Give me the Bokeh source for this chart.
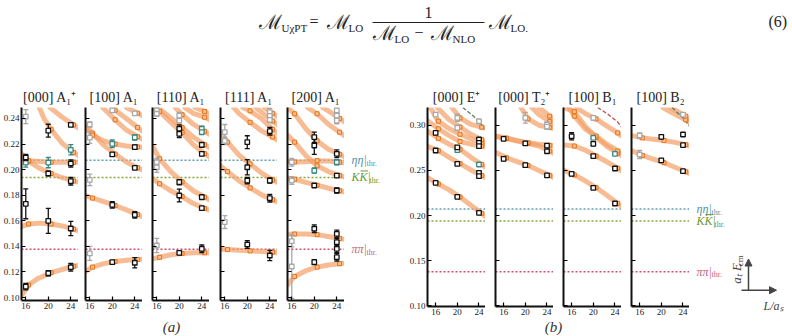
from bokeh.plotting import figure
from bokeh.layouts import row, column
from bokeh.models import Range1d, FixedTicker, PrintfTickFormatter, Span, Arrow, NormalHead
from bokeh.core.properties import value
from bokeh.embed import file_html
from bokeh.resources import INLINE
import math

SERIF = "Liberation Serif"
MATH = "DejaVu Serif"

# ---------------- data ----------------
L_TICKS = [16, 20, 24]
A_YTICKS = [0.10, 0.12, 0.14, 0.16, 0.18, 0.20, 0.22, 0.24]
B_YTICKS = [0.10, 0.15, 0.20, 0.25, 0.30]
A_YRANGE = (0.0977, 0.2486)
B_YRANGE = (0.0994, 0.3196)
A_XRANGE = (15.24, 25.37)
B_XRANGE = (14.5, 25.2)
FIT_L = [16.5, 20.5, 24.5]
THR_ETA, THR_KK, THR_PIPI = 0.2073, 0.1939, 0.1378

# (L, a_t E_cm, error)
A1_BLACK = [(16, 0.1085, 0.0025), (16, 0.1733, 0.0117), (16, 0.2095, 0.0025),
            (20, 0.1190, 0.0020), (20, 0.1600, 0.0098), (20, 0.1970, 0.0018), (20, 0.2305, 0.0050),
            (24, 0.1237, 0.0030), (24, 0.1540, 0.0056), (24, 0.1910, 0.0030), (24, 0.2048, 0.0028), (24, 0.2350, 0.0012)]
A1_GRAY = [(16, 0.2415, 0.0055)]
A1_TEAL = [(16, 0.2055, 0.0035), (20, 0.2055, 0.0040), (24, 0.2155, 0.0040)]
A1_CURVES = [
    [(15.24, 0.1015), (16.0, 0.1065), (16.5, 0.1098), (18.0, 0.1145), (20.5, 0.1195), (24.5, 0.1245), (25.37, 0.1252)],
    [(15.24, 0.1555), (16.5, 0.1575), (18.5, 0.1582), (20.5, 0.1575), (22.5, 0.1560), (24.5, 0.1535), (25.37, 0.1522)],
    [(15.24, 0.2125), (16.5, 0.2065), (18.5, 0.2010), (20.5, 0.1970), (22.5, 0.1937), (24.5, 0.1912), (25.37, 0.1903)],
    [(15.24, 0.2085), (16.5, 0.2070), (20.5, 0.2058), (24.5, 0.2057), (25.37, 0.2057)],
    [(18.4, 0.2486), (19.3, 0.2395), (20.5, 0.2315), (22.5, 0.2205), (24.5, 0.2135), (25.37, 0.2110)],
    [(20.3, 0.2486), (22.5, 0.2410), (24.5, 0.2350), (25.37, 0.2325)],
]

A2_BLACK = [(20, 0.2119, 0.0012), (20, 0.1725, 0.0025), (20, 0.1277, 0.0012),
            (24, 0.2176, 0.0015), (24, 0.2014, 0.0010), (24, 0.1647, 0.0025), (24, 0.1272, 0.0040)]
A2_GRAY = [(16, 0.2353, 0.0020), (16, 0.2250, 0.0045), (16, 0.1920, 0.0045), (16, 0.1345, 0.0055),
           (20, 0.2463, 0.0012), (24, 0.2440, 0.0012)]
A2_TEAL = [(20, 0.2202, 0.0030), (24, 0.2252, 0.0020)]
A2_CURVES = [
    [(15.24, 0.1205), (16.5, 0.1238), (18.5, 0.1265), (20.5, 0.1282), (22.5, 0.1292), (24.5, 0.1298), (25.37, 0.1300)],
    [(15.24, 0.1797), (16.5, 0.1778), (18.5, 0.1750), (20.5, 0.1720), (22.5, 0.1685), (24.5, 0.1650), (25.37, 0.1633)],
    [(15.24, 0.2345), (16.5, 0.2285), (18.5, 0.2190), (20.5, 0.2122), (22.5, 0.2060), (24.5, 0.2015), (25.37, 0.1997)],
    [(15.24, 0.2325), (16.5, 0.2270), (18.5, 0.2225), (20.5, 0.2200), (22.5, 0.2185), (24.5, 0.2178), (25.37, 0.2175)],
    [(18.3, 0.2486), (20.5, 0.2390), (22.5, 0.2310), (24.5, 0.2258), (25.37, 0.2238)],
    [(20.0, 0.2486), (20.5, 0.2465), (22.5, 0.2400), (24.5, 0.2330), (25.37, 0.2300)],
    [(22.5, 0.2486), (24.5, 0.2442), (25.37, 0.2420)],
]

A3_BLACK = [(20, 0.2320, 0.0030), (20, 0.2280, 0.0030), (20, 0.1902, 0.0020), (20, 0.1798, 0.0050), (20, 0.1350, 0.0015),
            (24, 0.2194, 0.0020), (24, 0.2124, 0.0015), (24, 0.1785, 0.0020), (24, 0.1699, 0.0012), (24, 0.1381, 0.0030)]
A3_GRAY = [(16, 0.2463, 0.0020), (16, 0.2437, 0.0020), (16, 0.2058, 0.0030), (16, 0.2019, 0.0040), (16, 0.1407, 0.0055),
           (20, 0.2423, 0.0025), (20, 0.2384, 0.0020)]
A3_TEAL = [(24, 0.2320, 0.0020), (24, 0.2294, 0.0020)]
A3_CURVES = [
    [(15.24, 0.1302), (16.5, 0.1315), (18.5, 0.1335), (20.5, 0.1345), (22.5, 0.1350), (24.5, 0.1350), (25.37, 0.1350)],
    [(15.24, 0.1930), (16.5, 0.1890), (18.5, 0.1835), (20.5, 0.1790), (22.5, 0.1735), (24.5, 0.1697), (25.37, 0.1683)],
    [(15.24, 0.2185), (16.5, 0.2085), (18.5, 0.1985), (20.5, 0.1905), (22.5, 0.1835), (24.5, 0.1785), (25.37, 0.1765)],
    [(15.24, 0.2486), (16.5, 0.2455), (18.5, 0.2370), (20.5, 0.2290), (22.5, 0.2195), (24.5, 0.2125), (25.37, 0.2100)],
    [(16.2, 0.2486), (18.5, 0.2405), (20.5, 0.2330), (22.5, 0.2255), (24.5, 0.2195), (25.37, 0.2170)],
    [(19.3, 0.2486), (20.5, 0.2430), (22.5, 0.2355), (24.5, 0.2300), (25.37, 0.2275)],
    [(21.0, 0.2486), (22.5, 0.2440), (24.5, 0.2410), (25.37, 0.2390)],
    [(22.8, 0.2486), (24.5, 0.2455), (25.37, 0.2435)],
]

A4_BLACK = [(20, 0.2215, 0.0050), (20, 0.2019, 0.0060), (20, 0.1915, 0.0025), (20, 0.1415, 0.0030),
            (24, 0.2301, 0.0030), (24, 0.1915, 0.0020), (24, 0.1777, 0.0030), (24, 0.1329, 0.0040)]
A4_GRAY = [(16, 0.2293, 0.0060), (16, 0.2225, 0.0030), (16, 0.1590, 0.0050),
           (24, 0.2450, 0.0030), (24, 0.2420, 0.0025), (24, 0.2390, 0.0020)]
A4_TEAL = []
A4_CURVES = [
    [(15.24, 0.1378), (16.5, 0.1375), (18.5, 0.1370), (20.5, 0.1365), (22.5, 0.1360), (24.5, 0.1355), (25.37, 0.1350)],
    [(15.24, 0.2030), (16.5, 0.1985), (18.5, 0.1915), (20.5, 0.1858), (22.5, 0.1805), (24.5, 0.1765), (25.37, 0.1748)],
    [(15.24, 0.2295), (16.5, 0.2215), (18.5, 0.2115), (20.5, 0.2045), (22.5, 0.1975), (24.5, 0.1920), (25.37, 0.1900)],
    [(17.6, 0.2486), (18.5, 0.2440), (20.5, 0.2370), (22.5, 0.2305), (24.5, 0.2255), (25.37, 0.2232)],
    [(19.2, 0.2486), (20.5, 0.2460), (22.5, 0.2400), (24.5, 0.2315), (25.37, 0.2285)],
    [(21.5, 0.2486), (22.5, 0.2450), (24.5, 0.2380), (25.37, 0.2350)],
    [(23.0, 0.2486), (24.5, 0.2440), (25.37, 0.2415)],
]

A5_BLACK = [(20, 0.2254, 0.0040), (20, 0.2189, 0.0070), (20, 0.1876, 0.0015), (20, 0.1538, 0.0030), (20, 0.1277, 0.0020),
            (24, 0.2124, 0.0030), (24, 0.1954, 0.0012), (24, 0.1837, 0.0020), (24, 0.1498, 0.0030),
            (24, 0.1433, 0.0030), (24, 0.1381, 0.0030), (24, 0.1316, 0.0030)]
A5_GRAY = [(16, 0.2058, 0.0030), (16, 0.1915, 0.0030), (16, 0.1441, 0.0045), (16, 0.1243, 0.0250),
           (24, 0.2463, 0.0020), (24, 0.2423, 0.0025), (24, 0.2384, 0.0025)]
A5_TEAL = [(20, 0.1993, 0.0020), (24, 0.2058, 0.0020)]
A5_CURVES = [
    [(15.24, 0.1100), (16.5, 0.1165), (18.5, 0.1210), (20.5, 0.1238), (22.5, 0.1255), (24.5, 0.1265), (25.37, 0.1268)],
    [(15.24, 0.1495), (16.5, 0.1497), (18.5, 0.1497), (20.5, 0.1492), (22.5, 0.1478), (24.5, 0.1462), (25.37, 0.1455)],
    [(15.24, 0.1935), (16.5, 0.1925), (18.5, 0.1900), (20.5, 0.1878), (22.5, 0.1855), (24.5, 0.1835), (25.37, 0.1825)],
    [(15.24, 0.2065), (16.5, 0.2060), (18.5, 0.2062), (20.5, 0.2070), (22.5, 0.2068), (24.5, 0.2058), (25.37, 0.2052)],
    [(15.24, 0.2270), (16.5, 0.2215), (18.5, 0.2110), (20.5, 0.2030), (22.5, 0.1985), (24.5, 0.1955), (25.37, 0.1942)],
    [(15.24, 0.2486), (16.5, 0.2437), (18.5, 0.2320), (20.5, 0.2225), (22.5, 0.2160), (24.5, 0.2120), (25.37, 0.2100)],
    [(18.8, 0.2486), (20.5, 0.2437), (22.5, 0.2355), (24.5, 0.2293), (25.37, 0.2265)],
    [(21.5, 0.2486), (22.5, 0.2460), (24.5, 0.2400), (25.37, 0.2372)],
]

B1_BLACK = [(16, 0.2916, 0.0020), (16, 0.2720, 0.0012), (16, 0.2363, 0.0012),
            (20, 0.2755, 0.0020), (20, 0.2573, 0.0012), (20, 0.2208, 0.0012),
            (24, 0.2842, 0.0020), (24, 0.2805, 0.0020), (24, 0.2768, 0.0020), (24, 0.2473, 0.0020),
            (24, 0.2436, 0.0020), (24, 0.2031, 0.0010)]
B1_GRAY = [(16, 0.3118, 0.0012), (20, 0.3082, 0.0040), (20, 0.2970, 0.0030), (24, 0.3044, 0.0015)]
B1_TEAL = [(20, 0.2725, 0.0025), (24, 0.2565, 0.0015)]
B1_CURVES = [
    [(14.5, 0.2420), (16.5, 0.2350), (18.5, 0.2285), (20.5, 0.2205), (22.5, 0.2115), (24.5, 0.2025), (25.2, 0.1990)],
    [(14.5, 0.2765), (16.5, 0.2718), (18.5, 0.2645), (20.5, 0.2575), (22.5, 0.2505), (24.5, 0.2445), (25.2, 0.2420)],
    [(14.5, 0.2935), (16.5, 0.2855), (18.5, 0.2790), (20.5, 0.2735), (22.5, 0.2645), (24.5, 0.2565), (25.2, 0.2535)],
    [(14.5, 0.3050), (16.5, 0.2960), (18.5, 0.2885), (20.5, 0.2820), (22.5, 0.2790), (24.5, 0.2770), (25.2, 0.2760)],
    [(15.0, 0.3196), (16.5, 0.3045), (18.5, 0.2960), (20.5, 0.2900), (22.5, 0.2850), (24.5, 0.2810), (25.2, 0.2790)],
    [(16.3, 0.3196), (18.5, 0.3060), (20.5, 0.2980), (22.5, 0.2900), (24.5, 0.2840), (25.2, 0.2815)],
    [(19.0, 0.3196), (20.5, 0.3080), (22.5, 0.3010), (24.5, 0.2978), (25.2, 0.2965)],
]
B1_DASHED = [(21.0, 0.3196), (23.0, 0.3100), (25.2, 0.2960)]

B2_BLACK = [(16, 0.2849, 0.0012), (16, 0.2628, 0.0020), (20, 0.2798, 0.0020), (20, 0.2558, 0.0020),
            (24, 0.2775, 0.0012), (24, 0.2712, 0.0012), (24, 0.2444, 0.0010)]
B2_GRAY = [(20, 0.3082, 0.0060), (24, 0.3007, 0.0030), (24, 0.2985, 0.0030)]
B2_TEAL = []
B2_CURVES = [
    [(14.5, 0.2700), (16.5, 0.2640), (18.5, 0.2598), (20.5, 0.2555), (22.5, 0.2500), (24.5, 0.2445), (25.2, 0.2420)],
    [(14.5, 0.2875), (16.5, 0.2852), (18.5, 0.2825), (20.5, 0.2800), (22.5, 0.2770), (24.5, 0.2715), (25.2, 0.2690)],
    [(14.5, 0.2880), (16.5, 0.2858), (18.5, 0.2830), (20.5, 0.2805), (22.5, 0.2790), (24.5, 0.2778), (25.2, 0.2770)],
    [(19.2, 0.3196), (20.5, 0.3070), (22.5, 0.3000), (24.5, 0.2975), (25.2, 0.2965)],
    [(21.2, 0.3196), (22.5, 0.3120), (24.5, 0.3040), (25.2, 0.3010)],
    [(22.5, 0.3196), (24.5, 0.3100), (25.2, 0.3060)],
]
B2_DASHED = []

B3_BLACK = [(16, 0.2878, 0.0040), (16, 0.2462, 0.0020), (20, 0.2794, 0.0020), (20, 0.2657, 0.0012),
            (20, 0.2307, 0.0012), (24, 0.2521, 0.0010), (24, 0.2134, 0.0010)]
B3_GRAY = [(20, 0.3082, 0.0025)]
B3_TEAL = [(20, 0.2860, 0.0012), (24, 0.2683, 0.0012)]
B3_CURVES = [
    [(14.5, 0.2505), (16.5, 0.2450), (18.5, 0.2385), (20.5, 0.2310), (22.5, 0.2225), (24.5, 0.2135), (25.2, 0.2100)],
    [(14.5, 0.2780), (16.5, 0.2770), (18.5, 0.2725), (20.5, 0.2660), (22.5, 0.2595), (24.5, 0.2525), (25.2, 0.2495)],
    [(14.5, 0.3196), (16.5, 0.3150), (18.5, 0.2990), (20.5, 0.2865), (22.5, 0.2765), (24.5, 0.2690), (25.2, 0.2665)],
    [(15.5, 0.3196), (16.5, 0.3100), (18.5, 0.2960), (20.5, 0.2880), (22.5, 0.2790), (24.5, 0.2715), (25.2, 0.2690)],
    [(16.8, 0.3196), (18.5, 0.3130), (20.5, 0.3070), (22.5, 0.2990), (24.5, 0.2915), (25.2, 0.2880)],
]
B3_DASHED = [(20.8, 0.3196), (22.5, 0.3130), (24.5, 0.3035), (25.2, 0.2980)]

B4_BLACK = [(20, 0.2871, 0.0020), (20, 0.2610, 0.0020), (24, 0.2897, 0.0012), (24, 0.2779, 0.0010), (24, 0.2491, 0.0010)]
B4_GRAY = [(16, 0.2886, 0.0025), (16, 0.2676, 0.0045), (24, 0.3118, 0.0020)]
B4_TEAL = []
B4_CURVES = [
    [(14.5, 0.2720), (16.5, 0.2665), (18.5, 0.2625), (20.5, 0.2585), (22.5, 0.2535), (24.5, 0.2485), (25.2, 0.2465)],
    [(14.5, 0.2885), (16.5, 0.2860), (18.5, 0.2845), (20.5, 0.2830), (22.5, 0.2810), (24.5, 0.2785), (25.2, 0.2770)],
    [(20.3, 0.3196), (22.5, 0.3120), (24.5, 0.3060), (25.2, 0.3030)],
    [(21.8, 0.3196), (24.5, 0.3100), (25.2, 0.3065)],
]
B4_DASHED = [(22.0, 0.3196), (24.0, 0.3080), (25.2, 0.2990)]

A_TITLES = ["[000] A\u2081\u207a", "[100] A\u2081", "[110] A\u2081", "[111] A\u2081", "[200] A\u2081"]
B_TITLES = ["[000] E\u207a", "[000] T\u2082\u207a", "[100] B\u2081", "[100] B\u2082"]
THR_TEXT = ["\u03b7\u03b7|", "KK|", "\u03c0\u03c0|"]

# ---------------- style ----------------
BLACK = "#111111"
GRAY = "#a8a8a8"
TEAL = "#3b8783"
BAND = "#f3a066"
FIT_FILL = "#f8c08f"
FIT_LINE = "#e8731c"
C_ETA = "#5e9fab"
C_KK = "#86a33e"
C_PIPI = "#c8506c"
LBL_ETA = "#4f93a6"
LBL_KK = "#6a9a30"
LBL_PIPI = "#c65f7c"


def make_panel(title, xr, yr, yticks, fw, fh, left, top, bottom, labels, right=0):
    p = figure(frame_width=fw, frame_height=fh, x_range=Range1d(*xr), y_range=Range1d(*yr),
               output_backend="svg", toolbar_location=None, title=title,
               min_border_left=left, min_border_right=right, min_border_top=top, min_border_bottom=bottom)
    p.outline_line_color = None
    p.xgrid.visible = False
    p.ygrid.visible = False
    p.background_fill_color = "white"
    p.border_fill_color = "white"
    p.title.text_font = SERIF
    p.title.text_font_size = "14px"
    p.title.text_font_style = "normal"
    p.title.text_color = "#222222"
    p.title.align = "center"
    p.title.standoff = 6
    for ax in (p.xaxis[0], p.yaxis[0]):
        ax.axis_line_width = 2
        ax.axis_line_color = "#111111"
        ax.major_tick_in = 4
        ax.major_tick_out = 0
        ax.major_tick_line_width = 1.2
        ax.minor_tick_line_color = None
        ax.major_label_text_font = SERIF
        ax.major_label_text_font_size = "9px"
        ax.major_label_text_color = "#222222"
        ax.major_label_standoff = 2
    p.xaxis.ticker = FixedTicker(ticks=L_TICKS)
    p.yaxis.ticker = FixedTicker(ticks=yticks)
    p.yaxis.formatter = PrintfTickFormatter(format="%.2f")
    if not labels:
        p.yaxis.major_label_overrides = {t: "" for t in yticks}
    return p


def fill_panel(p, black, gray, teal, curves, dashed, dashed_color):
    for loc, col in ((THR_ETA, C_ETA), (THR_KK, C_KK), (THR_PIPI, C_PIPI)):
        p.add_layout(Span(location=loc, dimension="width", line_color=col, line_dash="2 2",
                          line_width=1.5, level="underlay"))
    for c in curves:
        p.line([q[0] for q in c], [q[1] for q in c], line_width=5, line_color=BAND,
               line_alpha=0.7, line_cap="round", line_join="round")
    if dashed:
        p.line([q[0] for q in dashed], [q[1] for q in dashed], line_width=1.3,
               line_color=dashed_color, line_dash="4 2")
    fx = [q[0] for c in curves for q in c if q[0] in FIT_L]
    fy = [q[1] for c in curves for q in c if q[0] in FIT_L]
    p.scatter(fx, fy, marker="square", size=4, fill_color=FIT_FILL, line_color=FIT_LINE, line_width=1)
    for pts, col in ((gray, GRAY), (teal, TEAL), (black, BLACK)):
        if not pts:
            continue
        xs = [q[0] for q in pts]
        ys = [q[1] for q in pts]
        lo = [q[1] - q[2] for q in pts]
        hi = [q[1] + q[2] for q in pts]
        p.segment(xs, lo, xs, hi, line_color=col, line_width=1.3)
        p.scatter(xs + xs, lo + hi, marker="dash", size=5, line_color=col, line_width=1.3)
        p.scatter(xs, ys, marker="square", size=4.5, fill_color="white", line_color=col, line_width=1.3)


A_DATA = [(A1_BLACK, A1_GRAY, A1_TEAL, A1_CURVES), (A2_BLACK, A2_GRAY, A2_TEAL, A2_CURVES),
          (A3_BLACK, A3_GRAY, A3_TEAL, A3_CURVES), (A4_BLACK, A4_GRAY, A4_TEAL, A4_CURVES),
          (A5_BLACK, A5_GRAY, A5_TEAL, A5_CURVES)]
B_DATA = [(B1_BLACK, B1_GRAY, B1_TEAL, B1_CURVES, B1_DASHED, "#5f7a62"),
          (B2_BLACK, B2_GRAY, B2_TEAL, B2_CURVES, B2_DASHED, "#5f7a62"),
          (B3_BLACK, B3_GRAY, B3_TEAL, B3_CURVES, B3_DASHED, "#c44a48"),
          (B4_BLACK, B4_GRAY, B4_TEAL, B4_CURVES, B4_DASHED, "#5f7a62")]

A_LEFT = [19, 7, 10, 11, 10]
B_LEFT = [25, 10, 10, 10]

children = []
for i, (title, d) in enumerate(zip(A_TITLES, A_DATA)):
    p = make_panel(title, A_XRANGE, A_YRANGE, A_YTICKS, 57, 193, A_LEFT[i], 57, 18, i == 0)
    fill_panel(p, d[0], d[1], d[2], d[3], None, None)
    children.append(p)


def label_fig(width, fh, yr, top, bottom):
    q = figure(frame_width=width, frame_height=fh, x_range=Range1d(0, width), y_range=Range1d(*yr),
               output_backend="svg", toolbar_location=None, x_axis_type=None, y_axis_type=None,
               min_border_left=0, min_border_right=0, min_border_top=top, min_border_bottom=bottom)
    q.outline_line_color = None
    q.xgrid.visible = False
    q.ygrid.visible = False
    return q


def add_thr_labels(q, x0, units_per_px):
    q.text(x=[x0] * 3, y=[THR_ETA, THR_KK, THR_PIPI], text=THR_TEXT,
           text_color=[LBL_ETA, LBL_KK, LBL_PIPI], text_font=value(SERIF), text_font_style="italic",
           text_font_size="12px", text_baseline="middle", text_align="left")
    q.text(x=[x0 + 15, x0 + 18, x0 + 15], y=[THR_ETA, THR_KK, THR_PIPI], text=["thr."] * 3,
           text_color=[LBL_ETA, LBL_KK, LBL_PIPI], text_font=value(SERIF),
           text_font_size="8px", text_baseline="middle", text_align="left", y_offset=3)
    # bar over the second K (anti-kaon)
    ybar = THR_KK + 6.5 * units_per_px
    q.segment(x0=[x0 + 9], y0=[ybar], x1=[x0 + 16.5], y1=[ybar], line_color=LBL_KK, line_width=1)


la = label_fig(58, 193, A_YRANGE, 57, 18)
add_thr_labels(la, 7, (A_YRANGE[1] - A_YRANGE[0]) / 193.0)
children.append(la)

for i, (title, d) in enumerate(zip(B_TITLES, B_DATA)):
    p = make_panel(title, B_XRANGE, B_YRANGE, B_YTICKS, 58, 199, B_LEFT[i], 53, 16, i == 0)
    fill_panel(p, *d)
    children.append(p)

LB_Y = (B_YRANGE[1] - 215 / 904.0, B_YRANGE[1])
lb = label_fig(105, 215, LB_Y, 53, 0)
add_thr_labels(lb, 7, 1 / 904.0)
# coordinate-direction arrows (decorative)
ARROW_V = (59, 0.1175, 59, 0.1520)
ARROW_H = (52, 0.1175, 87, 0.1175)
for a in (ARROW_V, ARROW_H):
    lb.add_layout(Arrow(end=NormalHead(size=7, fill_color="#444444", line_color="#444444"),
                        x_start=a[0], y_start=a[1], x_end=a[2], y_end=a[3],
                        line_color="#444444", line_width=1.5))
lb.text(x=[47], y=[0.1360], text=["a\u209c E"], angle=math.pi / 2, text_font=value(SERIF),
        text_font_style="italic", text_font_size="13px", text_color="#444444",
        text_align="center", text_baseline="middle")
lb.text(x=[50], y=[0.1500], text=["cm"], angle=math.pi / 2, text_font=value(SERIF),
        text_font_size="9px", text_color="#444444", text_align="center", text_baseline="middle")
lb.text(x=[84], y=[0.1000], text=["L/a\u209b"], text_font=value(SERIF), text_font_style="italic",
        text_font_size="12px", text_color="#444444", text_align="center", text_baseline="middle")
children.append(lb)

# ---------------- equation (top) ----------------
eq = figure(width=792, height=50, x_range=Range1d(0, 792), y_range=Range1d(50, 0),
            output_backend="svg", toolbar_location=None, x_axis_type=None, y_axis_type=None,
            min_border=0)
eq.outline_line_color = None
eq.xgrid.visible = False
eq.ygrid.visible = False
EQ_MAIN = [(258, 21, "\u2133"), (326, 21, "\u2133"), (372, 32, "\u2133"), (430, 32, "\u2133"), (488, 21, "\u2133")]
EQ_SUB = [(281, 27, "U\u03c7PT"), (348, 27, "LO"), (394, 38, "LO"), (452, 38, "NLO"), (510, 27, "LO.")]
EQ_OPS = [(309, 21, "="), (414, 32, "\u2212"), (424, 12, "1"), (768, 21, "(6)")]
eq.text(x=[e[0] for e in EQ_MAIN], y=[e[1] for e in EQ_MAIN], text=[e[2] for e in EQ_MAIN],
        text_font=value(MATH), text_font_size="20px", text_baseline="middle", text_align="left",
        text_color="#222222")
eq.text(x=[e[0] for e in EQ_SUB], y=[e[1] for e in EQ_SUB], text=[e[2] for e in EQ_SUB],
        text_font=value(SERIF), text_font_size="11px", text_baseline="middle", text_align="left",
        text_color="#222222")
eq.text(x=[e[0] for e in EQ_OPS], y=[e[1] for e in EQ_OPS], text=[e[2] for e in EQ_OPS],
        text_font=value(SERIF), text_font_size="16px", text_baseline="middle", text_align="left",
        text_color="#222222")
eq.segment(x0=[372], y0=[22], x1=[484], y1=[22], line_color="#222222", line_width=1)

# ---------------- captions (bottom) ----------------
cap = figure(width=792, height=18, x_range=Range1d(0, 792), y_range=Range1d(18, 0),
             output_backend="svg", toolbar_location=None, x_axis_type=None, y_axis_type=None,
             min_border=0)
cap.outline_line_color = None
cap.xgrid.visible = False
cap.ygrid.visible = False
cap.text(x=[171, 553], y=[8, 8], text=["(a)", "(b)"], text_font=value(SERIF), text_font_style="italic",
         text_font_size="15px", text_baseline="middle", text_align="center", text_color="#333333")

layout = column(eq, row(*children, spacing=0), cap, spacing=0)
open("out.html", "w").write(file_html(layout, INLINE))
